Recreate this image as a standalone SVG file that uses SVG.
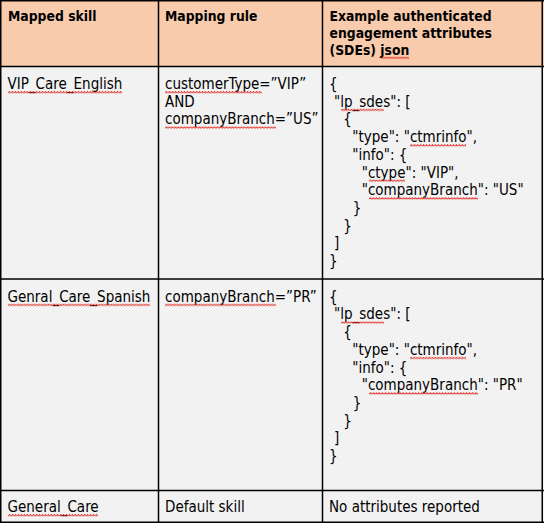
<svg xmlns="http://www.w3.org/2000/svg" width="544" height="523" viewBox="0 0 544 523">
<defs>
<pattern id="wave" patternUnits="userSpaceOnUse" width="3" height="2.5">
<path d="M0 2 L1.5 0.5 L3 2" fill="none" stroke="#e0261e" stroke-width="0.9"/>
</pattern>
</defs>
<style>
text{font-family:"DejaVu Sans Condensed","DejaVu Sans",sans-serif;font-stretch:condensed;font-size:15px;fill:#000}
.h{font-weight:bold;font-size:13.8px}
.sq{fill:url(#wave)}
.hd{fill:#f8cbad}
.bd{fill:#f2f2f2}
.grid line{stroke:#000;stroke-width:1.5}
</style>
<g id="background">
<rect class="hd" x="0" y="0" width="544" height="67"/>
<rect class="bd" x="0" y="67" width="544" height="456"/>
</g>
<g id="header">
<g id="h-skill"><text class="h" x="8" y="21">Mapped skill</text></g>
<g id="h-rule"><text class="h" x="165" y="21">Mapping rule</text></g>
<g id="h-json">
<text class="h" x="329.5" y="21">Example authenticated</text>
<text class="h" x="329.5" y="37.8">engagement attributes</text>
<text class="h" x="329.5" y="54.6">(SDEs) json</text>
</g>
</g>
<g id="row-vip">
<g id="vip-skill"><text x="7.5" y="89">VIP_Care_English</text></g>
<g id="vip-rule">
<text x="165" y="89">customerType=”VIP”</text>
<text x="165" y="106.7">AND</text>
<text x="165" y="124.4">companyBranch=”US”</text>
</g>
<g id="vip-json">
<text x="329" y="89">{</text>
<text x="334" y="106.7">"lp_sdes": [</text>
<text x="343.3" y="124.4">{</text>
<text x="352.3" y="142.1">"type": "ctmrinfo",</text>
<text x="352.3" y="159.8">"info": {</text>
<text x="361.7" y="177.5">"ctype": "VIP",</text>
<text x="361.7" y="195.2">"companyBranch": "US"</text>
<text x="352.7" y="212.9">}</text>
<text x="343.3" y="230.6">}</text>
<text x="334" y="248.3">]</text>
<text x="329" y="266">}</text>
</g>
</g>
<g id="row-spanish">
<g id="es-skill"><text x="7.5" y="301.7">Genral_Care_Spanish</text></g>
<g id="es-rule"><text x="165" y="301.7">companyBranch=”PR”</text></g>
<g id="es-json">
<text x="329" y="301.7">{</text>
<text x="334" y="319.4">"lp_sdes": [</text>
<text x="343.3" y="337.1">{</text>
<text x="352.3" y="354.8">"type": "ctmrinfo",</text>
<text x="352.3" y="372.5">"info": {</text>
<text x="361.7" y="390.2">"companyBranch": "PR"</text>
<text x="352.7" y="407.9">}</text>
<text x="343.3" y="425.6">}</text>
<text x="334" y="443.3">]</text>
<text x="329" y="461">}</text>
</g>
</g>
<g id="row-general">
<g id="gen-skill"><text x="7.5" y="512">General_Care</text></g>
<g id="gen-rule"><text x="165" y="512">Default skill</text></g>
<g id="gen-json"><text x="329" y="512">No attributes reported</text></g>
</g>
<g id="spellcheck">
<rect class="sq" transform="translate(381,56.6)" width="28" height="2.5"/>
<rect class="sq" transform="translate(8,91)" width="114" height="2.5"/>
<rect class="sq" transform="translate(165,91)" width="97" height="2.5"/>
<rect class="sq" transform="translate(165,126.4)" width="111" height="2.5"/>
<rect class="sq" transform="translate(341,108.7)" width="43" height="2.5"/>
<rect class="sq" transform="translate(410,144.1)" width="56" height="2.5"/>
<rect class="sq" transform="translate(369,179.5)" width="36" height="2.5"/>
<rect class="sq" transform="translate(369,197.2)" width="109" height="2.5"/>
<rect class="sq" transform="translate(8,303.7)" width="142" height="2.5"/>
<rect class="sq" transform="translate(165,303.7)" width="111" height="2.5"/>
<rect class="sq" transform="translate(341,321.4)" width="43" height="2.5"/>
<rect class="sq" transform="translate(410,356.8)" width="56" height="2.5"/>
<rect class="sq" transform="translate(369,392.2)" width="109" height="2.5"/>
<rect class="sq" transform="translate(8,514)" width="90" height="2.5"/>
</g>
<g id="grid" class="grid">
<line x1="0" y1="0.75" x2="544" y2="0.75"/>
<line x1="0" y1="66.5" x2="544" y2="66.5"/>
<line x1="0" y1="279" x2="544" y2="279"/>
<line x1="0" y1="490.5" x2="544" y2="490.5"/>
<line x1="0" y1="522.25" x2="544" y2="522.25"/>
<line x1="0.75" y1="0" x2="0.75" y2="523"/>
<line x1="158.5" y1="0" x2="158.5" y2="523"/>
<line x1="322.5" y1="0" x2="322.5" y2="523"/>
<line x1="542.25" y1="0" x2="542.25" y2="523"/>
</g>
</svg>
